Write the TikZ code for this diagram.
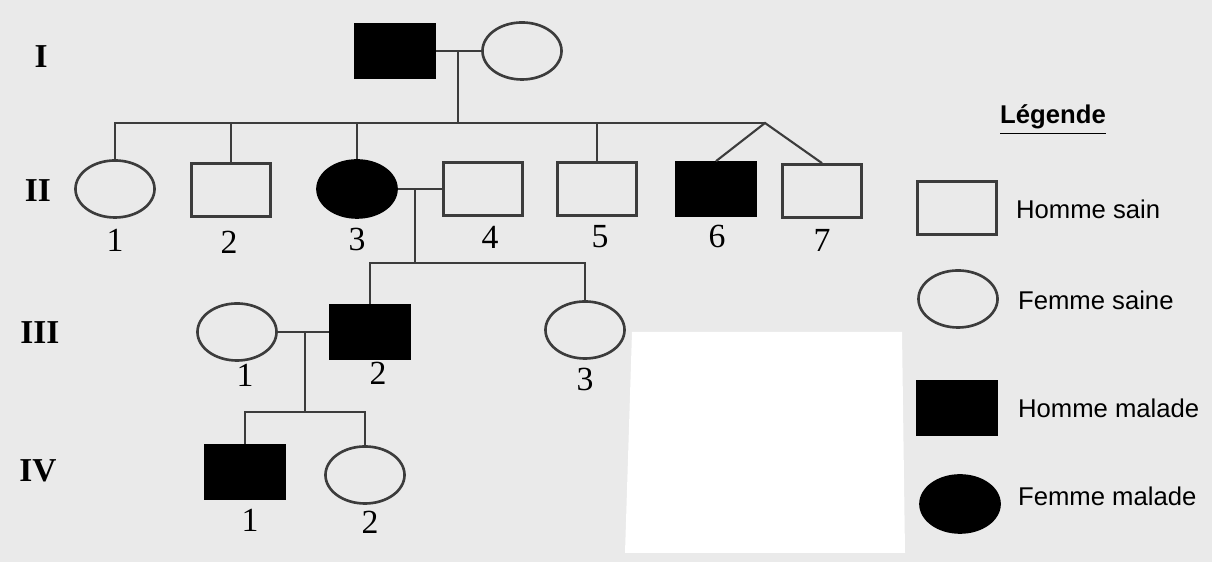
\documentclass[tikz,border=0pt]{standalone}
\usepackage{fontspec}
\setmainfont{Liberation Serif}
\setsansfont{Liberation Sans}
\usetikzlibrary{positioning,shapes.geometric}

\definecolor{paper}{RGB}{234,234,234}
\definecolor{ink}{RGB}{60,60,60}

\begin{document}
\begin{tikzpicture}[x=0.01cm,y=-0.01cm,
  line width=0.6pt, draw=ink,
  male/.style={draw=ink, line width=0.75pt, rectangle, minimum width=0.79cm, minimum height=0.53cm, inner sep=0pt},
  female/.style={draw=ink, line width=0.75pt, ellipse, minimum width=0.79cm, minimum height=0.57cm, inner sep=0pt},
  ill/.style={fill=black, draw=black},
  num/.style={inner sep=0pt, font=\fontsize{9.6}{10}\selectfont},
  gen/.style={inner sep=0pt, font=\fontsize{9.5}{10}\selectfont\bfseries},
  legtext/.style={anchor=west, inner sep=0pt, font=\sffamily\fontsize{7.3}{8}\selectfont}]

\fill[paper] (0,0) rectangle (1212,562);
\useasboundingbox (0,0) rectangle (1212,562);
\fill[white] (632,332) -- (902,332) -- (905,553) -- (625,553) -- cycle;

% generations
\node[gen] (gI)   at (41,57)  {I};
\node[gen] (gII)  at (38,191) {II};
\node[gen] (gIII) at (40,333) {III};
\node[gen] (gIV)  at (38,471) {IV};

% generation I
\node[male, ill] (I1) at (395,51) {};
\node[female]    (I2) at (522,51) {};

% generation II
\node[female]      (II1) at (115,189) {};
\node[male]        (II2) at (231,190) {};
\node[female, ill] (II3) at (357,189) {};
\node[male]        (II4) at (483,189) {};
\node[male]        (II5) at (597,189) {};
\node[male, ill]   (II6) at (716,189) {};
\node[male]        (II7) at (822,191) {};

% generation III
\node[female]    (III1) at (237,332) {};
\node[male, ill] (III2) at (370,332) {};
\node[female]    (III3) at (585,330) {};

% generation IV
\node[male, ill] (IV1) at (245,472) {};
\node[female]    (IV2) at (365,475) {};

% numbers
\foreach \n/\t/\dx/\dy in {II1/1/0/51,II2/2/-2/52,II3/3/0/51,II4/4/7/48,II5/5/3/48,II6/6/1/48,II7/7/0/49,
    III1/1/8/43,III2/2/8/41,III3/3/0/50,IV1/1/5/48,IV2/2/5/47}
  \node[num] (n\n) at ([xshift=\dx*0.01cm, yshift=-\dy*0.01cm]\n.center) {\t};

% couples and siblings
\coordinate (m1) at (458,51);
\coordinate (tw) at (765,123);
\draw (I1.east) -- (I2.west);
\draw (m1) -- (m1 |- tw);
\draw (II1.north) |- (tw);
\foreach \c in {II2,II3,II5}
  \draw (\c.north) -- (\c.north |- tw);
\draw (II6.north) -- (tw) -- (II7.north);

\coordinate (m2) at (415,189);
\coordinate (s2) at (415,263);
\draw (II3.east) -- (II4.west);
\draw (m2) -- (s2);
\draw (III2.north) |- (s2) -| (III3.north);

\coordinate (m3) at (305,332);
\coordinate (s3) at (305,412);
\draw (III1.east) -- (III2.west);
\draw (m3) -- (s3);
\draw (IV1.north) |- (s3) -| (IV2.north);

% legend
\node[inner sep=0pt, font=\sffamily\bfseries\fontsize{7.3}{8}\selectfont] (leg) at (1053,120) {\underline{Légende}};
\node[male]        (lHS) at (957,208) {};
\node[female]      (lFS) at (958,299) {};
\node[male, ill]   (lHM) at (957,408) {};
\node[female, ill] (lFM) at (960,504) {};
\node[legtext] (tHS) at (1015,209) {Homme sain};
\node[legtext] (tFS) at (1017,300) {Femme saine};
\node[legtext] (tHM) at (1017,408) {Homme malade};
\node[legtext] (tFM) at (1017,496) {Femme malade};
\end{tikzpicture}
\end{document}
